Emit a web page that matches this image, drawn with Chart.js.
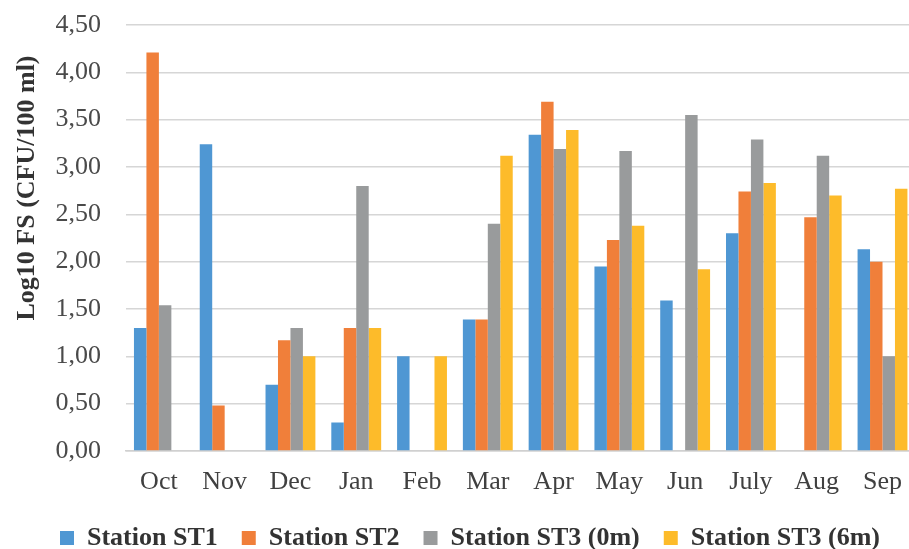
<!DOCTYPE html>
<html>
<head>
<meta charset="utf-8">
<script src="https://cdn.jsdelivr.net/npm/chart.js@4/dist/chart.umd.min.js"></script>
<style>
  html, body { margin: 0; padding: 0; background: #ffffff; overflow: hidden; }
  #wrap { position: relative; width: 918px; height: 549px; }
</style>
</head>
<body>
<div id="wrap"><canvas id="chart"></canvas></div>
<script>
// Monthly faecal streptococci counts (log10 CFU/100 ml) per station
const months = ['Oct', 'Nov', 'Dec', 'Jan', 'Feb', 'Mar', 'Apr', 'May', 'Jun', 'July', 'Aug', 'Sep'];
const st1    = [1.30, 3.24, 0.70, 0.30, 1.00, 1.39, 3.34, 1.95, 1.59, 2.30, null, 2.13];
const st2    = [4.21, 0.48, 1.17, 1.30, null, 1.39, 3.69, 2.23, null, 2.74, 2.47, 2.00];
const st3_0m = [1.54, null, 1.30, 2.80, null, 2.40, 3.19, 3.17, 3.55, 3.29, 3.12, 1.00];
const st3_6m = [null, null, 1.00, 1.30, 1.00, 3.12, 3.39, 2.38, 1.92, 2.83, 2.70, 2.77];
const seriesNames = ['Station ST1', 'Station ST2', 'Station ST3 (0m)', 'Station ST3 (6m)'];
const yAxisTitle = 'Log10 FS (CFU/100 ml)';

const colors = ['#4f97d3', '#f07f3a', '#999b9c', '#fdbb2a'];
const serif = '"Liberation Serif", "Times New Roman", serif';

// Rotated y-axis title, placed a little above the middle of the axis
const yTitlePlugin = {
  id: 'yTitle',
  afterDraw(chart) {
    const ctx = chart.ctx;
    ctx.save();
    ctx.translate(27, 188);
    ctx.rotate(-Math.PI / 2);
    ctx.font = 'bold 26px ' + serif;
    ctx.fillStyle = '#333333';
    ctx.textAlign = 'center';
    ctx.textBaseline = 'middle';
    ctx.fillText(yAxisTitle, 0, 0);
    ctx.restore();
  }
};

const data = {
  labels: months,
  datasets: [st1, st2, st3_0m, st3_6m].map((vals, i) => ({
    label: seriesNames[i],
    data: vals,
    backgroundColor: colors[i],
    borderWidth: 0,
    categoryPercentage: 0.758,
    barPercentage: 1.0
  }))
};

new Chart(document.getElementById('chart'), {
  type: 'bar',
  data,
  plugins: [yTitlePlugin],
  options: {
    responsive: true,
    maintainAspectRatio: false,
    animation: false,
    layout: { padding: { left: 22, right: 0, top: 25, bottom: 0 } },
    plugins: {
      tooltip: { enabled: false },
      legend: {
        position: 'bottom',
        maxHeight: 48,
        labels: {
          boxWidth: 14,
          boxHeight: 14,
          padding: 24,
          color: '#333333',
          font: { family: serif, size: 26, weight: 'bold' }
        }
      }
    },
    scales: {
      x: {
        afterFit(scale) { scale.height = 50; },
        grid: { display: false, drawTicks: false },
        border: { display: true, color: '#d0d0d0', width: 1.5 },
        ticks: {
          padding: 16,
          color: '#404040',
          font: { family: serif, size: 26 }
        }
      },
      y: {
        min: 0,
        max: 4.5,
        afterFit(scale) { scale.width = 104; },
        grid: { color: '#d6d6d6', lineWidth: 1.5, drawTicks: true, tickLength: 25, tickColor: 'rgba(0,0,0,0)' },
        border: { display: false },
        ticks: {
          stepSize: 0.5,
          padding: 0,
          color: '#4a4a4a',
          font: { family: serif, size: 26 },
          callback: v => v.toFixed(2).replace('.', ',')
        }
      }
    }
  }
});
</script>
</body>
</html>
